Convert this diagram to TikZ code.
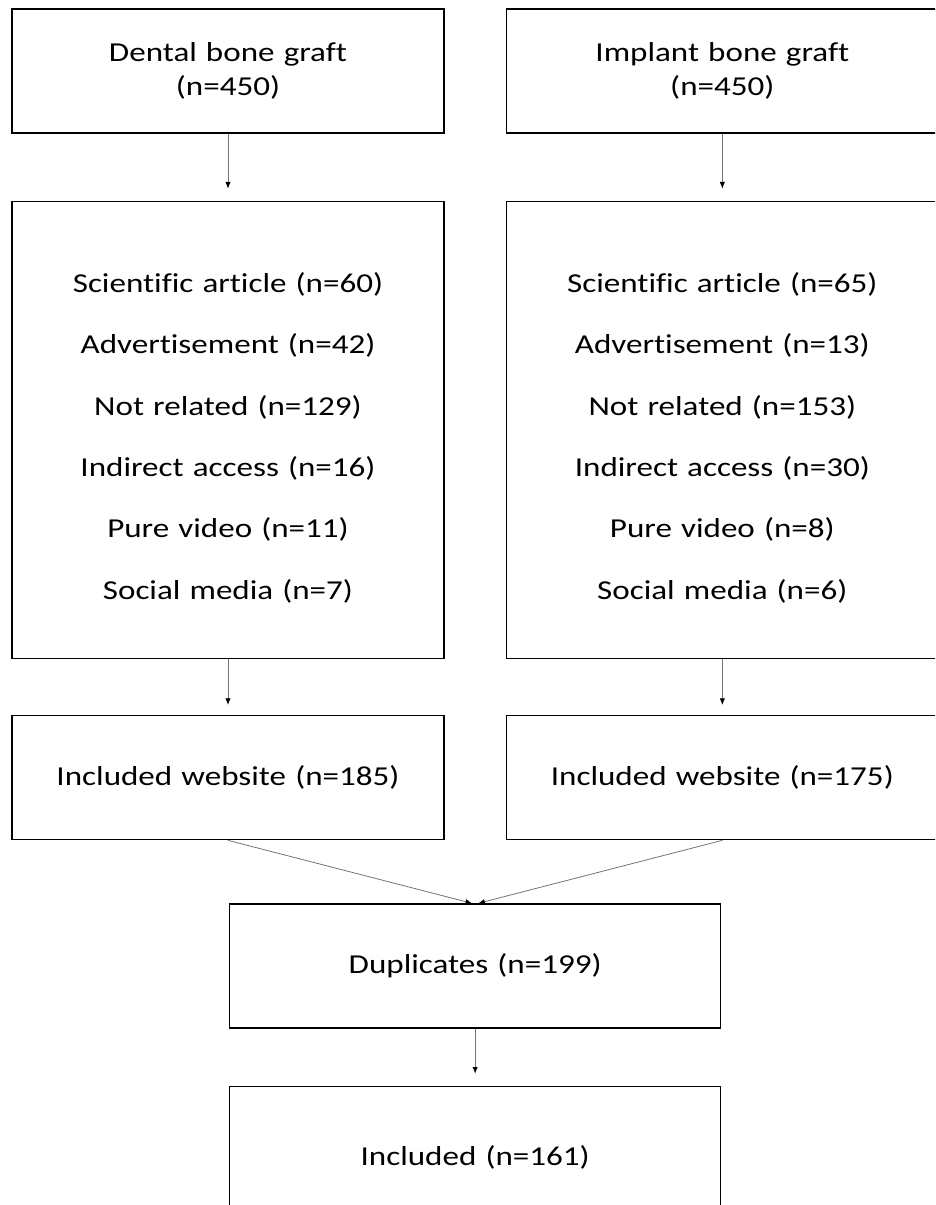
\documentclass[tikz,border=0pt]{standalone}
\usepackage{fontspec}
\setmainfont{Carlito}[FakeStretch=1.21, Ligatures=NoCommon]
\usetikzlibrary{positioning}
\usetikzlibrary{calc, arrows.meta}
\newcommand{\flowfont}{\fontsize{20.5}{25.5}\selectfont}

\begin{document}
\begin{tikzpicture}[align=center, x=0.75pt, y=-0.75pt, node distance=45.75pt]
       \flowfont
       \tikzstyle{box} = [
            rectangle,
            draw=black,
            line width=1pt,
            inner sep=0pt,
            minimum width=324pt,
            minimum height=93pt,
            text width=316pt,
            align=center
       ]
       \tikzstyle{listbox} = [
            box,
            minimum height=342.75pt,
            font=\fontsize{20.5}{46}\selectfont,
            execute at begin node={\rule{0pt}{27pt}}
       ]
       \tikzstyle{midbox} = [
            box,
            minimum width=368.25pt,
            text width=360pt
       ]
       \tikzstyle{arrow} = [draw=black!55, line width=0.6pt, -{Latex[length=5pt, width=4pt, color=black]}]

       \useasboundingbox (0,0) rectangle (935,1205);
       \clip (0,0) rectangle (935,1205);

       \node (dental) at (228,71) [box] {Dental bone graft\\(n=450)};
       \node (implant) [box, right=of dental] {Implant bone graft\\(n=450)};

       \node (dentallist) [listbox, below=50.25pt of dental] {Scientific article (n=60)\\Advertisement (n=42)\\Not related (n=129)\\Indirect access (n=16)\\Pure video (n=11)\\Social media (n=7)};
       \node (implantlist) [listbox, below=50.25pt of implant] {Scientific article (n=65)\\Advertisement (n=13)\\Not related (n=153)\\Indirect access (n=30)\\Pure video (n=8)\\Social media (n=6)};

       \node (dentalweb) [box, below=42pt of dentallist] {Included website (n=185)};
       \node (implantweb) [box, below=42pt of implantlist] {Included website (n=175)};

       \coordinate (webmid) at ($(dentalweb.south)!0.5!(implantweb.south)$);
       \node (duplicates) [midbox, below=47.25pt of webmid] {Duplicates (n=199)};
       \node (included) [midbox, minimum height=106.5pt, below=42.75pt of duplicates] {Included (n=161)};

       \draw[arrow, shorten >=9pt] (dental) -- (dentallist);
       \draw[arrow, shorten >=9pt] (implant) -- (implantlist);
       \draw[arrow, shorten >=7.5pt] (dentallist) -- (dentalweb);
       \draw[arrow, shorten >=7.5pt] (implantlist) -- (implantweb);
       \draw[arrow] (dentalweb.south) -- ([xshift=-2.25pt]duplicates.north);
       \draw[arrow] (implantweb.south) -- ([xshift=2.25pt]duplicates.north);
       \draw[arrow, shorten >=9pt] (duplicates) -- (included);
\end{tikzpicture}
\end{document}
